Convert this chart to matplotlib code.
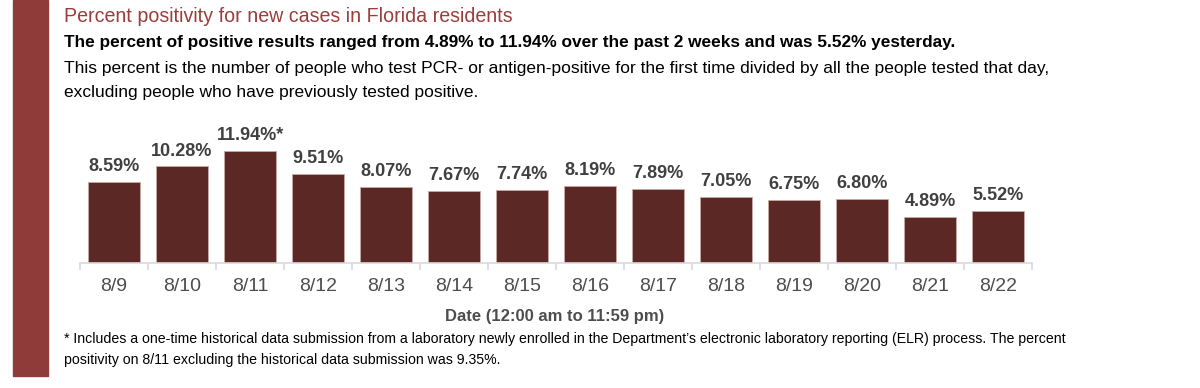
import matplotlib
matplotlib.use("Agg")
import matplotlib.pyplot as plt
from matplotlib.patches import Rectangle

dates = ["8/9", "8/10", "8/11", "8/12", "8/13", "8/14", "8/15",
         "8/16", "8/17", "8/18", "8/19", "8/20", "8/21", "8/22"]
positivity = [8.59, 10.28, 11.94, 9.51, 8.07, 7.67, 7.74,
              8.19, 7.89, 7.05, 6.75, 6.80, 4.89, 5.52]
value_labels = ["8.59%", "10.28%", "11.94%*", "9.51%", "8.07%", "7.67%", "7.74%",
                "8.19%", "7.89%", "7.05%", "6.75%", "6.80%", "4.89%", "5.52%"]

TITLE = "Percent positivity for new cases in Florida residents"
SUBTITLE = ("The percent of positive results ranged from 4.89% to 11.94% over "
            "the past 2 weeks and was 5.52% yesterday.")
DESC1 = ("This percent is the number of people who test PCR- or antigen-positive "
         "for the first time divided by all the people tested that day,")
DESC2 = "excluding people who have previously tested positive."
XLABEL = "Date (12:00 am to 11:59 pm)"
NOTE1 = ("* Includes a one-time historical data submission from a laboratory newly "
         "enrolled in the Department\u2019s electronic laboratory reporting (ELR) "
         "process. The percent")
NOTE2 = "positivity on 8/11 excluding the historical data submission was 9.35%."

C_BAR = "#5c2825"
C_SIDE = "#8e3b3a"
C_TITLE = "#9a3d3b"
C_LABEL = "#404040"
C_TICK = "#4d4d4d"

W, H = 1200, 388
fig = plt.figure(figsize=(W / 100, H / 100), dpi=100)

# side bar
fig.patches.append(Rectangle((13 / W, 12 / H), 35 / W, 1 - 12 / H,
                             transform=fig.transFigure, color=C_SIDE, zorder=0))

sans = ["Liberation Sans", "DejaVu Sans"]

fig.text(64 / W, 1 - 17 / H, TITLE, color=C_TITLE, fontsize=14.1,
         family=sans, va="center", ha="left")
fig.text(64 / W, 1 - 43 / H, SUBTITLE, color="black", fontsize=12.45,
         family=sans, fontweight="bold", va="center", ha="left")
fig.text(64 / W, 1 - 68 / H, DESC1, color="black", fontsize=12.5,
         family=sans, va="center", ha="left")
fig.text(64 / W, 1 - 92 / H, DESC2, color="black", fontsize=12.5,
         family=sans, va="center", ha="left")

# chart area: baseline at y=263 px, x from 80 to 1032 px
px_per_unit = 9.39
ytop = 15.0
ax = fig.add_axes([80 / W, (H - 263) / H, 952 / W, ytop * px_per_unit / H])
x = range(len(dates))
ax.bar(x, positivity, width=0.77, color=C_BAR, edgecolor="#c9a9a6",
       linewidth=0.6, zorder=2)
for xi, v, lab in zip(x, positivity, value_labels):
    ax.annotate(lab, (xi, v), xytext=(0, 5), textcoords="offset points",
                ha="center", va="bottom", fontsize=13, fontweight="bold",
                color=C_LABEL, family=sans)

ax.set_xlim(-0.5, len(dates) - 0.5)
ax.set_ylim(0, ytop)
for s in ["top", "right", "left"]:
    ax.spines[s].set_visible(False)
ax.spines["bottom"].set_color("#d9d9d9")
ax.spines["bottom"].set_linewidth(1.2)
ax.set_yticks([])
ax.set_xticks([i - 0.5 for i in range(len(dates) + 1)], minor=False)
ax.set_xticklabels([])
ax.tick_params(axis="x", which="major", length=5, color="#d9d9d9", width=1.2)
ax.set_xticks(list(x), minor=True)
ax.set_xticklabels(dates, minor=True)
ax.tick_params(axis="x", which="minor", length=0, pad=11, labelsize=14,
               labelcolor=C_TICK)
for t in ax.get_xticklabels(minor=True):
    t.set_family(sans)

fig.text(555 / W, 1 - 316 / H, XLABEL, color=C_TICK, fontsize=12,
         family=sans, fontweight="bold", ha="center", va="center")
fig.text(64 / W, 1 - 339 / H, NOTE1, color="black", fontsize=10.2,
         family=sans, ha="left", va="center")
fig.text(64 / W, 1 - 360 / H, NOTE2, color="black", fontsize=10.2,
         family=sans, ha="left", va="center")

fig.savefig("out.png", dpi=100, facecolor="white")
